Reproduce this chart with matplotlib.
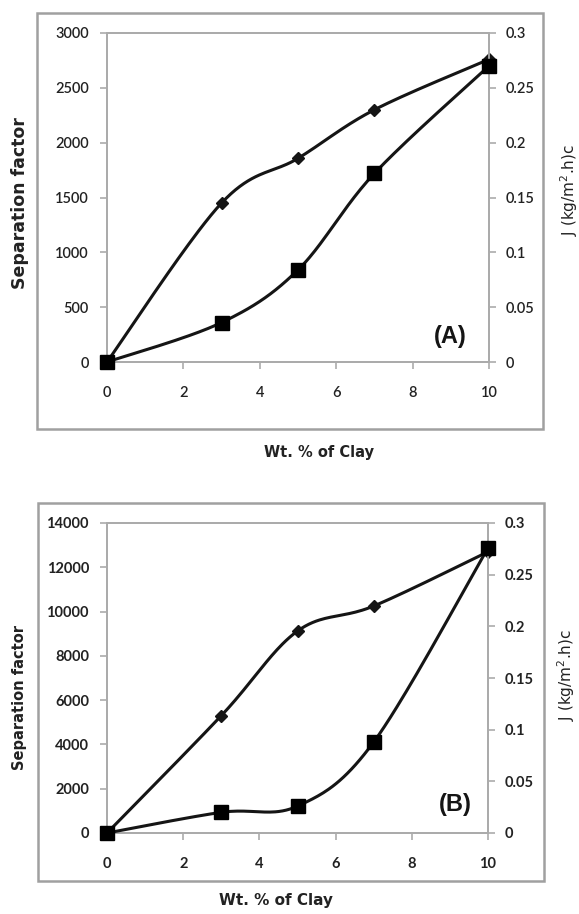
import numpy as np
import matplotlib
matplotlib.use("Agg")
import matplotlib.pyplot as plt
from matplotlib.patches import Rectangle

# ---------------- data ----------------
clay = [0, 3, 5, 7, 10]
x_ticks = [0, 2, 4, 6, 8, 10]

# Panel A
sepA = [0, 1450, 1857, 2300, 2760]
fluxA = [0.0, 0.036, 0.084, 0.172, 0.270]
sepA_ticks = [0, 500, 1000, 1500, 2000, 2500, 3000]
fluxA_ticks = [0, 0.05, 0.1, 0.15, 0.2, 0.25, 0.3]
fluxA_labels = ["0", "0.05", "0.1", "0.15", "0.2", "0.25", "0.3"]

# Panel B
sepB = [0, 5300, 9120, 10250, 12700]
fluxB = [0.0, 0.020, 0.026, 0.088, 0.276]
sepB_ticks = [0, 2000, 4000, 6000, 8000, 10000, 12000, 14000]
fluxB_ticks = [0, 0.05, 0.1, 0.15, 0.2, 0.25, 0.3]
fluxB_labels = ["0", "0.05", "0.1", "0.15", "0.2", "0.25", "0.3"]

W, H = 579, 914
fig = plt.figure(figsize=(W / 100, H / 100), dpi=100)
fig.patch.set_facecolor("white")

SPINE = "#ababab"
FRAME = "#a0a0a0"
INK = "#151515"
TXT = "#222222"


def px_rect(x0, y0, x1, y1):
    return [x0 / W, 1 - y1 / H, (x1 - x0) / W, (y1 - y0) / H]


def smooth_plot(ax, xs, ys, n=40, **kw):
    """Excel-like smoothed line (Catmull-Rom Bezier) computed in display space."""
    pts = ax.transData.transform(np.column_stack([xs, ys]))
    m = len(pts)
    out = []
    for i in range(m - 1):
        p0 = pts[i - 1] if i > 0 else pts[i]
        p1 = pts[i]
        p2 = pts[i + 1]
        p3 = pts[i + 2] if i + 2 < m else pts[i + 1]
        c1 = p1 + (p2 - p0) / 6.0
        c2 = p2 - (p3 - p1) / 6.0
        t = np.linspace(0, 1, n)[:, None]
        seg = ((1 - t) ** 3) * p1 + 3 * ((1 - t) ** 2) * t * c1 + 3 * (1 - t) * t ** 2 * c2 + t ** 3 * p2
        out.append(seg if i == 0 else seg[1:])
    curve = np.vstack(out)
    data = ax.transData.inverted().transform(curve)
    ax.plot(data[:, 0], data[:, 1], **kw)


def make_panel(rect, frame, sep, flux, sep_ticks, flux_ticks, flux_labels,
               tick_weight, labels):
    ax = fig.add_axes(px_rect(*rect))
    ax2 = ax.twinx()
    ax.set_xlim(0, 10)
    ax.set_ylim(sep_ticks[0], sep_ticks[-1])
    ax2.set_ylim(flux_ticks[0], flux_ticks[-1])
    ax.set_xticks(x_ticks)
    ax.set_xticklabels([str(v) for v in x_ticks])
    ax.set_yticks(sep_ticks)
    ax.set_yticklabels([str(v) for v in sep_ticks])
    ax2.set_yticks(flux_ticks)
    ax2.set_yticklabels(flux_labels)
    for a in (ax, ax2):
        for s in a.spines.values():
            s.set_color(SPINE)
            s.set_linewidth(1.3)
    ax.tick_params(axis="y", direction="out", length=5, width=1.2, color=SPINE,
                   pad=8, labelcolor=TXT)
    ax.tick_params(axis="x", direction="out", length=5, width=1.2, color=SPINE,
                   pad=12, labelcolor=TXT)
    ax2.tick_params(axis="y", direction="out", length=5, width=1.2, color=SPINE,
                    pad=7, labelcolor=TXT)
    for lab in ax.get_xticklabels() + ax.get_yticklabels() + ax2.get_yticklabels():
        lab.set_fontfamily(["Lato", "DejaVu Sans"])
        lab.set_fontsize(10.5)
        lab.set_fontweight(tick_weight)

    smooth_plot(ax, clay, sep, color=INK, lw=2.2, zorder=3)
    ax.plot(clay, sep, linestyle="none", marker="D", markersize=6.5,
            color=INK, zorder=4)
    smooth_plot(ax2, clay, flux, color=INK, lw=2.2, zorder=3)
    ax2.plot(clay, flux, linestyle="none", marker="s", markersize=10.5,
             color="black", zorder=5)
    for a in (ax, ax2):
        for ln in a.lines:
            ln.set_clip_on(False)

    fx0, fy0, fx1, fy1 = frame
    fig.add_artist(Rectangle((fx0 / W, 1 - fy1 / H), (fx1 - fx0) / W, (fy1 - fy0) / H,
                             transform=fig.transFigure, fill=False,
                             edgecolor=FRAME, linewidth=1.8))

    for txt, (x, y), kw in labels:
        fig.text(x / W, 1 - y / H, txt, ha="center", va="center", **kw)
    return ax, ax2


make_panel((107, 33, 489, 362), (37, 13, 543, 429), sepA, fluxA,
           sepA_ticks, fluxA_ticks, fluxA_labels, "semibold",
           [("Separation factor", (20, 203),
             dict(rotation=90, fontsize=12.5, fontweight="bold", family="DejaVu Sans", color=TXT)),
            ("J (kg/m$^2$.h)c", (569, 190),
             dict(rotation=90, fontsize=11, family="DejaVu Sans", color=TXT)),
            ("Wt. % of Clay", (319, 452),
             dict(fontsize=10.5, fontweight="semibold", family="DejaVu Sans", color=TXT)),
            ("(A)", (450, 337),
             dict(fontsize=17, fontweight="bold", family="Liberation Sans", color=INK))])

make_panel((107, 523, 488, 833), (38, 503, 544, 881), sepB, fluxB,
           sepB_ticks, fluxB_ticks, fluxB_labels, "bold",
           [("Separation factor", (20, 697),
             dict(rotation=90, fontsize=10.5, fontweight="bold", family="DejaVu Sans", color=TXT)),
            ("J (kg/m$^2$.h)c", (566, 675),
             dict(rotation=90, fontsize=11, family="DejaVu Sans", color=TXT)),
            ("Wt. % of Clay", (276, 901),
             dict(fontsize=11, fontweight="bold", family="DejaVu Sans", color=TXT)),
            ("(B)", (455, 804),
             dict(fontsize=17, fontweight="bold", family="Liberation Sans", color=INK))])

fig.savefig("out.png", dpi=100, facecolor="white")
